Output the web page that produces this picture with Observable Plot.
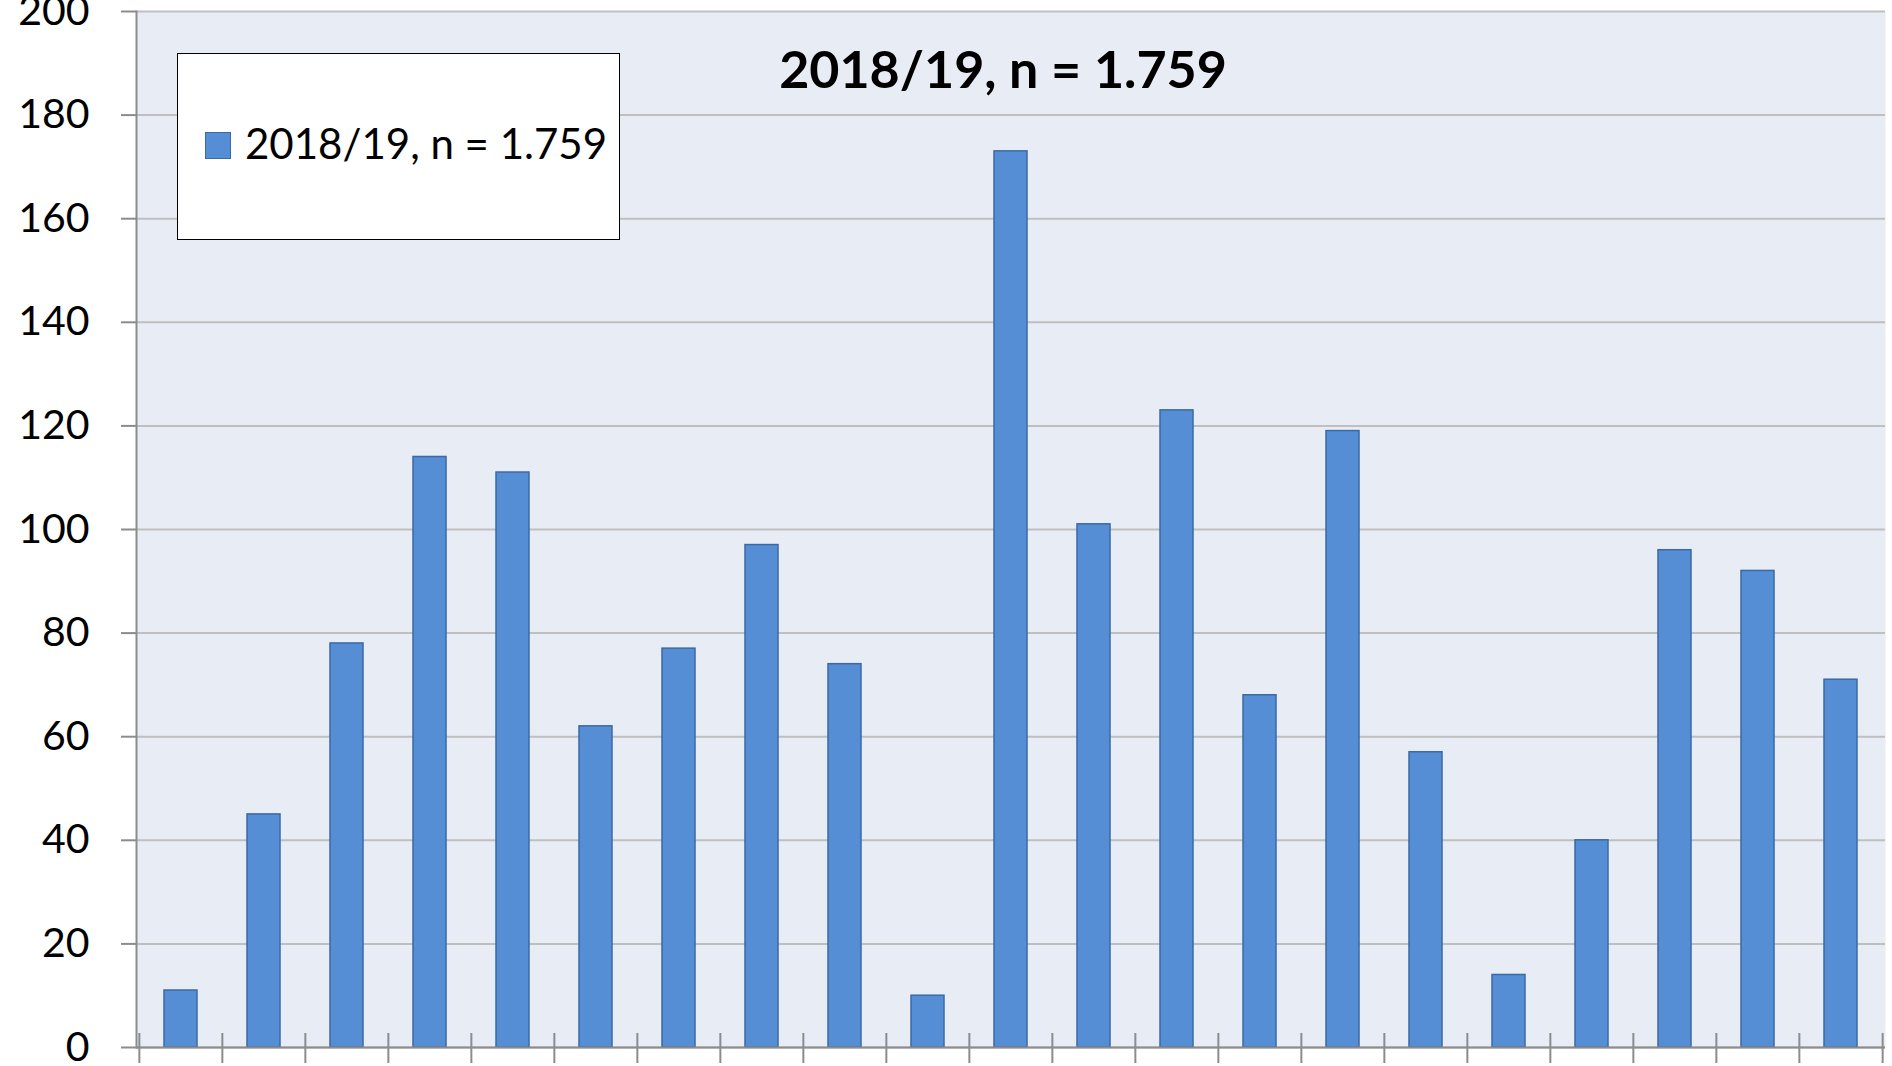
<!DOCTYPE html>
<html><head><meta charset="utf-8">
<script src="https://cdn.jsdelivr.net/npm/d3@7"></script>
<script src="https://cdn.jsdelivr.net/npm/@observablehq/plot@0.6"></script>
<style>
body{margin:0;background:#fff;font-family:Lato,sans-serif;}
#wrap{position:relative;width:1892px;height:1066px;overflow:hidden;}
#title{position:absolute;left:1003px;top:42px;transform:translateX(-50%);font-size:52px;line-height:52px;font-weight:bold;color:#000;white-space:nowrap;}
#legend{position:absolute;left:177px;top:53px;width:441px;height:185px;background:#fff;border:1.5px solid #000;}
#legend .sw{position:absolute;left:27px;top:78px;width:26px;height:27px;background:#558ED5;border:1.5px solid #3A6AA6;box-sizing:border-box;}
#legend .lb{position:absolute;left:67px;top:68px;font-size:42px;line-height:42px;white-space:nowrap;color:#000;}
svg{position:absolute;left:0;top:0;}
</style></head>
<body><div id="wrap"></div>
<script>
const categories = ["1","2","3","4","5","6","7","8","9","10","11","12","13","14","15","16","17","18","19","20","21"];
const counts = [11,45,78,114,111,62,77,97,74,10,173,101,123,68,119,57,14,40,96,92,71];
const yTicks = [0,20,40,60,80,100,120,140,160,180,200];
const seriesLabel = "2018/19, n = 1.759";
const titleText = "2018/19, n = 1.759";

const data = categories.map((c, i) => ({cat: c, value: counts[i]}));

const W = 1892, H = 1066;
const mL = 136, mR = 7, mT = 11, mB = 19;
const step = (W - mL - mR) / categories.length;
const pxPerUnit = (H - mT - mB) / 200;

const plot = Plot.plot({
  width: W,
  height: H,
  marginLeft: mL,
  marginRight: mR,
  marginTop: mT,
  marginBottom: mB,
  style: {fontFamily: "Lato, sans-serif", background: "transparent"},
  x: {domain: categories, paddingInner: 0.6, paddingOuter: 0.3, axis: null},
  y: {domain: [0, 200], axis: null},
  marks: [
    Plot.frame({fill: "#E8ECF4", stroke: null}),
    Plot.gridY(yTicks, {stroke: "#BFBFBF", strokeOpacity: 1, strokeWidth: 2}),
    Plot.barY(data, {x: "cat", y: "value", fill: "#558ED5", stroke: "#3A6AA6", strokeWidth: 1.5}),
    Plot.axisY({ticks: yTicks, label: null, tickSize: 15, tickPadding: 32, fontSize: 41, stroke: "#8C8C8C", strokeWidth: 2, color: "#000", tickFormat: d => String(d)}),
    Plot.frame({anchor: "left", stroke: "#8C8C8C", strokeWidth: 2}),
    Plot.ruleY([0], {stroke: "#8C8C8C", strokeWidth: 2}),
    Plot.ruleX(categories, {x: d => d, dx: -step / 2, y1: -16 / pxPerUnit, y2: 14 / pxPerUnit, stroke: "#8C8C8C", strokeWidth: 2}),
    Plot.ruleX([categories[categories.length - 1]], {x: d => d, dx: step / 2, y1: -16 / pxPerUnit, y2: 14 / pxPerUnit, stroke: "#8C8C8C", strokeWidth: 2})
  ]
});

const wrap = document.getElementById("wrap");
wrap.appendChild(plot);

const title = document.createElement("div");
title.id = "title";
title.textContent = titleText;
wrap.appendChild(title);

const legend = document.createElement("div");
legend.id = "legend";
const sw = document.createElement("div");
sw.className = "sw";
const lb = document.createElement("div");
lb.className = "lb";
lb.textContent = seriesLabel;
legend.appendChild(sw);
legend.appendChild(lb);
wrap.appendChild(legend);
</script>
</body></html>
